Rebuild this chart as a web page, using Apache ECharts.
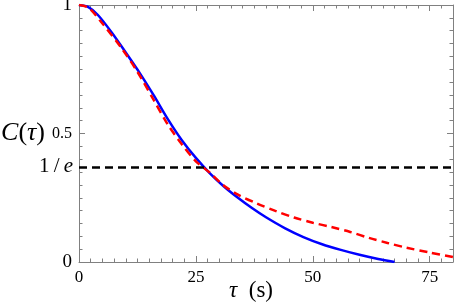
<!DOCTYPE html>
<html>
<head>
<meta charset="utf-8">
<script src="https://cdn.jsdelivr.net/npm/echarts@6/dist/echarts.min.js"></script>
<style>html,body{margin:0;padding:0;background:#fff}#c{width:456px;height:307px}</style>
</head>
<body>
<div id="c"></div>
<script>
// Blue solid curve
const blueTau = [0, 2, 4, 7, 10, 13, 16, 19, 22, 25, 28, 31, 34, 37, 40, 44, 48, 52, 56, 60, 64, 67.5];
const blueC   = [1.0, 0.992, 0.962, 0.893, 0.815, 0.735, 0.648, 0.556, 0.474, 0.405, 0.345, 0.294, 0.250, 0.210, 0.174, 0.132, 0.097, 0.069, 0.047, 0.028, 0.012, 0.0];
// Red dashed curve
const redTau = [0, 2, 4.7, 9, 12.5, 16, 19, 22, 25, 28, 31, 34, 38, 42, 46, 50, 54, 58, 62, 66, 70, 75, 80];
const redC   = [1.0, 0.99, 0.935, 0.835, 0.74, 0.63, 0.535, 0.458, 0.392, 0.347, 0.297, 0.262, 0.228, 0.199, 0.173, 0.153, 0.136, 0.117, 0.094, 0.074, 0.056, 0.037, 0.019];
// Reference level
const refLevel = 1 / Math.E;
const xTicks = [0, 25, 50, 75];
const yTicks = [0, 0.5, 1];

const serif = '"Liberation Serif", "DejaVu Serif", serif';
const gray = '#808080';

function pairs(xs, ys) { return xs.map((x, i) => [x, ys[i]]); }

function xAx(pos, interval, major) {
  return {
    type: 'value', position: pos, min: 0, max: 80, interval: interval,
    axisLine: { show: major, onZero: false, lineStyle: { color: gray, width: 1 } },
    axisTick: { show: true, inside: true, length: major ? 6 : 3.5, lineStyle: { color: gray } },
    axisLabel: { show: major && pos === 'bottom', margin: 7, color: '#000', fontFamily: serif, fontSize: 17,
      formatter: v => xTicks.includes(v) ? String(v) : '' },
    splitLine: { show: false }
  };
}
function yAx(pos, interval, major) {
  return {
    type: 'value', position: pos, min: 0, max: 1, interval: interval,
    axisLine: { show: major, onZero: false, lineStyle: { color: gray, width: 1 } },
    axisTick: { show: true, inside: true, length: major ? 6 : 3.5, lineStyle: { color: gray } },
    axisLabel: { show: major && pos === 'left', margin: 7, color: '#000', fontFamily: serif,
      formatter: v => yTicks.includes(v) ? (v === 0.5 ? '{s|0.5}' : '{b|' + v + '}') : '',
      rich: { s: { fontSize: 16, fontFamily: serif, color: '#000' }, b: { fontSize: 19, fontFamily: serif, color: '#000' } } },
    splitLine: { show: false }
  };
}

const xMain = xAx('bottom', 25, true);
xMain.name = '{i|τ}{r|  (s)}';
xMain.nameLocation = 'middle';
xMain.nameGap = 17;
xMain.nameMoveOverlap = false;
xMain.nameTextStyle = { padding: [0, 30, 0, 0], rich: { i: { fontStyle: 'italic', fontFamily: serif, fontSize: 23, color: '#000' }, r: { fontFamily: serif, fontSize: 23, color: '#000' } } };

const yMain = yAx('left', 0.5, true);
yMain.name = '{i|C}{r|(}{i|τ}{r|)}';
yMain.nameLocation = 'middle';
yMain.nameRotate = 0;
yMain.nameGap = 34;
yMain.nameMoveOverlap = false;
yMain.nameTextStyle = { rich: { i: { fontStyle: 'italic', fontFamily: serif, fontSize: 26, color: '#000' }, r: { fontFamily: serif, fontSize: 26, color: '#000' } } };

const chart = echarts.init(document.getElementById('c'), null, { renderer: 'canvas' });
chart.setOption({
  animation: false,
  backgroundColor: '#fff',
  grid: { left: 79, right: 3, top: 5, bottom: 45, outerBoundsMode: 'none', containLabel: false },
  xAxis: [xMain, xAx('bottom', 2.5, false), xAx('top', 25, true), xAx('top', 2.5, false)],
  yAxis: [yMain, yAx('left', 0.05, false), yAx('right', 0.5, true), yAx('right', 0.05, false)],
  series: [
    {
      type: 'line', xAxisIndex: 0, yAxisIndex: 0, data: pairs(blueTau, blueC), smooth: 0.3,
      showSymbol: false, lineStyle: { color: '#0000ff', width: 2.5 }, z: 3,
      markLine: {
        silent: true, symbol: 'none', animation: false,
        data: [{ yAxis: refLevel }],
        lineStyle: { color: '#000', type: [8, 5], width: 2.5 },
        label: { show: true, position: 'start', distance: 6, formatter: '{r|1\u2009/\u2009}{i|e}',
          rich: { r: { fontFamily: serif, fontSize: 21, color: '#000' }, i: { fontFamily: serif, fontStyle: 'italic', fontSize: 21, color: '#000' } } }
      }
    },
    {
      type: 'line', xAxisIndex: 0, yAxisIndex: 0, data: pairs(redTau, redC), smooth: 0.3,
      showSymbol: false, lineStyle: { color: '#ff0000', width: 2.5, type: [8, 5] }, z: 4
    }
  ]
});
</script>
</body>
</html>
